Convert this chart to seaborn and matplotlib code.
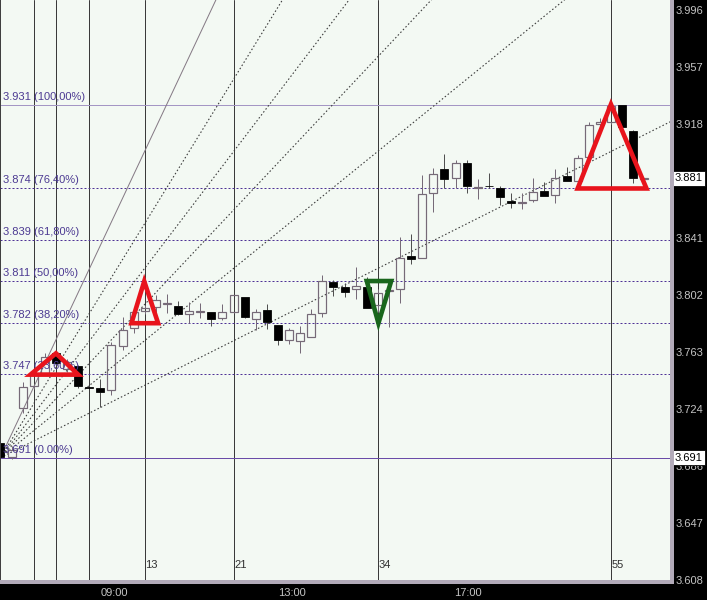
import matplotlib
matplotlib.use("Agg")
import matplotlib.pyplot as plt
import matplotlib.transforms as mtransforms
from matplotlib.patches import Rectangle, Polygon
import numpy as np
import pandas as pd
import seaborn as sns

# ---------------- data ----------------
opens = [3.7007, 3.6912, 3.7245, 3.7397, 3.7484, 3.7622, 3.7511, 3.7533, 3.7390, 3.7382,
         3.7370, 3.7671, 3.7790, 3.7908, 3.7937, 3.7960, 3.7942, 3.7885, 3.7903, 3.7899,
         3.7858, 3.7903, 3.8001, 3.7853, 3.7915, 3.7813, 3.7710, 3.7706, 3.7733, 3.7896,
         3.8105, 3.8069, 3.8056, 3.8073, 3.7949, 3.8046, 3.8056, 3.8282, 3.8267, 3.8709,
         3.8874, 3.8811, 3.8917, 3.8747, 3.8760, 3.8743, 3.8657, 3.8648, 3.8663, 3.8725,
         3.8697, 3.8827, 3.8795, 3.8958, 3.9179, 3.9192, 3.9310, 3.9133, 3.8810]
highs = [3.7010, 3.6990, 3.7427, 3.7495, 3.7622, 3.7625, 3.7580, 3.7540, 3.7395, 3.7445,
         3.7700, 3.7869, 3.7937, 3.7950, 3.8017, 3.8022, 3.7976, 3.7971, 3.7960, 3.7899,
         3.7953, 3.8017, 3.8001, 3.7920, 3.7955, 3.7813, 3.7790, 3.7806, 3.7920, 3.8153,
         3.8119, 3.8100, 3.8209, 3.8141, 3.8060, 3.8096, 3.8414, 3.8430, 3.8834, 3.8879,
         3.8977, 3.8936, 3.8936, 3.8804, 3.8845, 3.8759, 3.8709, 3.8709, 3.8811, 3.8788,
         3.8872, 3.8890, 3.8970, 3.9196, 3.9220, 3.9317, 3.9310, 3.9140, 3.8815]
lows = [3.6900, 3.6900, 3.7211, 3.7380, 3.7470, 3.7540, 3.7490, 3.7384, 3.7385, 3.7256,
        3.7336, 3.7642, 3.7756, 3.7890, 3.7896, 3.7892, 3.7880, 3.7824, 3.7860, 3.7808,
        3.7847, 3.7895, 3.7862, 3.7778, 3.7785, 3.7677, 3.7683, 3.7624, 3.7733, 3.7865,
        3.8010, 3.8005, 3.7987, 3.7930, 3.7900, 3.7801, 3.7960, 3.8226, 3.8267, 3.8584,
        3.8743, 3.8743, 3.8709, 3.8668, 3.8743, 3.8629, 3.8607, 3.8600, 3.8650, 3.8693,
        3.8645, 3.8790, 3.8790, 3.8950, 3.9170, 3.9180, 3.9150, 3.8780, 3.8805]
closes = [3.6914, 3.6960, 3.7388, 3.7472, 3.7597, 3.7554, 3.7563, 3.7397, 3.7388, 3.7359,
          3.7676, 3.7779, 3.7899, 3.7926, 3.7983, 3.7962, 3.7890, 3.7908, 3.7904, 3.7851,
          3.7899, 3.8017, 3.7869, 3.7899, 3.7835, 3.7710, 3.7779, 3.7756, 3.7887, 3.8114,
          3.8073, 3.8039, 3.8078, 3.7930, 3.8028, 3.8047, 3.8267, 3.8264, 3.8704, 3.8838,
          3.8804, 3.8913, 3.8761, 3.8748, 3.8758, 3.8686, 3.8645, 3.8649, 3.8720, 3.8693,
          3.8811, 3.8795, 3.8947, 3.9174, 3.9196, 3.9303, 3.9158, 3.8815, 3.8811]

fib_low = 3.691
fib_high = 3.931
fib_ratios = [1.0, 0.764, 0.618, 0.5, 0.382, 0.236, 0.0]
fib_labels = ["3.931 (100,00%)", "3.874 (76,40%)", "3.839 (61,80%)", "3.811 (50,00%)",
              "3.782 (38,20%)", "3.747 (23,60%)", "3.691 (0.00%)"]
fan_ratios = [1.0, 0.764, 0.618, 0.5, 0.382, 0.236]
fan_anchor_bar = 0
fan_end_bar = 14.95

fib_time_bars = [3, 5, 8, 13, 21, 34, 55]
fib_time_labels = ["", "", "", "13", "21", "34", "55"]

time_tick_bars = [10.3, 26.3, 42.1]
time_tick_labels = ["09:00", "13:00", "17:00"]

ytick_values = [3.608, 3.6468, 3.6856, 3.7244, 3.7632, 3.802, 3.8408, 3.8796, 3.9184, 3.9572, 3.996]
price_boxes = [3.881, 3.691]

red_triangles = [
    [(2.7, 3.7475), (5.0, 3.7620), (7.0, 3.7475)],
    [(11.8, 3.7825), (12.95, 3.8110), (14.2, 3.7825)],
    [(52.0, 3.8742), (55.0, 3.9315), (58.2, 3.8742)],
]
green_triangles = [
    [(33.0, 3.8112), (34.05, 3.7825), (35.2, 3.8112)],
]

# ---------------- style ----------------
sns.set_style("white")
plt.rcParams["font.family"] = ["Liberation Sans", "DejaVu Sans"]

BG = "#f3f9f3"
CANDLE_GREY = "#766a78"
FIB_PURPLE = "#4e3296"
TEXT_PURPLE = "#4c3a92"

fig = plt.figure(figsize=(7.07, 6.0), dpi=100, facecolor="black")
ax = fig.add_axes([0, 20 / 600, 670 / 707, 580 / 600])
ax.set_facecolor(BG)
ax.set_xlim(-0.045, 60.32)
ax.set_ylim(3.6077, 4.0025)

px = 72 / 100  # one pixel in points

# fibonacci time lines
for b in fib_time_bars:
    ax.axvline(b, color="#3a3a3a", lw=1 * px, zorder=1)
blend = mtransforms.blended_transform_factory(ax.transData, ax.transAxes)
for b, lab in zip(fib_time_bars, fib_time_labels):
    if lab:
        ax.text(b + 0.06, 0.026, lab, transform=blend, fontsize=8, color="#303030",
                ha="left", va="center", zorder=3)

# fibonacci retracement levels
fib_prices = [fib_low + r * (fib_high - fib_low) for r in fib_ratios]
for r, p in zip(fib_ratios, fib_prices):
    if r == 1.0:
        ax.axhline(p, color="#a496c4", lw=1 * px, zorder=1)
    elif r == 0.0:
        ax.axhline(p, color="#6a4ca8", lw=1 * px, zorder=1)
    else:
        ax.axhline(p, color=FIB_PURPLE, lw=1 * px, ls=(0, (2.0, 2.0)), zorder=1)

# fan lines
x_far = 62
fan_rows = []
for r in fan_ratios:
    slope = r * (fib_high - fib_low) / (fan_end_bar - fan_anchor_bar)
    fan_rows.append(pd.DataFrame({"bar": [fan_anchor_bar, x_far],
                                  "price": [fib_low, fib_low + slope * (x_far - fan_anchor_bar)],
                                  "ratio": [r, r]}))
for df in fan_rows:
    r = df["ratio"].iloc[0]
    if r == 1.0:
        sns.lineplot(data=df, x="bar", y="price", ax=ax, color="#857a85", lw=1 * px,
                     zorder=1.5, legend=False)
    else:
        sns.lineplot(data=df, x="bar", y="price", ax=ax, color="#3c3c3c", lw=1.1 * px,
                     linestyle=(0, (1.4, 2.0)), zorder=1.5, legend=False)

# candles
bw = 0.72
for i, (o, h, l, c) in enumerate(zip(opens, highs, lows, closes)):
    top = max(o, c)
    bot = min(o, c)
    bear = o > c
    body_h = max(top - bot, 0.0004)
    if body_h == 0.0004:
        mid = (top + bot) / 2
        bot = mid - 0.0002
        top = mid + 0.0002
    wick_col = "#505050" if bear else CANDLE_GREY
    if h > top:
        ax.vlines(i, top, h, color=wick_col, lw=1 * px, zorder=2)
    if l < bot:
        ax.vlines(i, l, bot, color=wick_col, lw=1 * px, zorder=2)
    if bear:
        ax.bar(i, body_h, bottom=bot, width=bw, color="black", edgecolor="black",
               lw=0.8 * px, zorder=2.2)
    else:
        ax.bar(i, body_h, bottom=bot, width=bw, facecolor="none", edgecolor=CANDLE_GREY,
               lw=1.2 * px, zorder=2.2)

# fib labels (drawn below triangles)
for p, lab in zip(fib_prices, fib_labels):
    ax.annotate(lab, xy=(0, p), xycoords=("axes fraction", "data"), xytext=(3, 3),
                textcoords="offset pixels", fontsize=8, color=TEXT_PURPLE,
                ha="left", va="bottom", zorder=3)

# pattern triangles
for tri in red_triangles:
    ax.add_patch(Polygon(tri, closed=True, fill=False, edgecolor="#e8141c",
                         lw=4.6 * px, joinstyle="miter", zorder=4))
for tri in green_triangles:
    ax.add_patch(Polygon(tri, closed=True, fill=False, edgecolor="#19661c",
                         lw=4.6 * px, joinstyle="miter", zorder=4))

# axes / ticks
for s in ["top", "right", "bottom"]:
    ax.spines[s].set_visible(False)
ax.spines["left"].set_color("#404040")
ax.spines["left"].set_linewidth(1 * px)

ax.yaxis.tick_right()
ax.set_yticks(ytick_values)
ax.set_yticklabels([f"{v:.3f}" for v in ytick_values])
ax.tick_params(axis="y", length=0, pad=6 * px, labelsize=8, labelcolor="#c4c4c4")
ax.set_xticks(time_tick_bars)
ax.set_xticklabels(time_tick_labels)
ax.tick_params(axis="x", length=0, pad=7.5 * px, labelsize=8, labelcolor="#c4c4c4")
ax.set_xlabel("")
ax.set_ylabel("")

# grey frame bands (right and bottom)
fig.patches.append(Rectangle((670 / 707, 16 / 600), 4 / 707, 584 / 600,
                             transform=fig.transFigure, facecolor="#b2aab9", edgecolor="none"))
fig.patches.append(Rectangle((0, 16 / 600), 674 / 707, 4 / 600,
                             transform=fig.transFigure, facecolor="#b2aab9", edgecolor="none"))

# price boxes on the right scale (they cover the neighbouring scale labels, as in the original)
rblend = mtransforms.blended_transform_factory(ax.transAxes, ax.transData)
for p in price_boxes:
    ax.text(1.0 + 5 / 670, p, f"{p:.3f}", transform=rblend, fontsize=8, color="black",
            ha="left", va="center", clip_on=False, zorder=10,
            bbox=dict(boxstyle="square,pad=0.22", facecolor="white", edgecolor="black",
                      lw=0.8 * px))

fig.savefig("out.png", dpi=100, facecolor="black")
